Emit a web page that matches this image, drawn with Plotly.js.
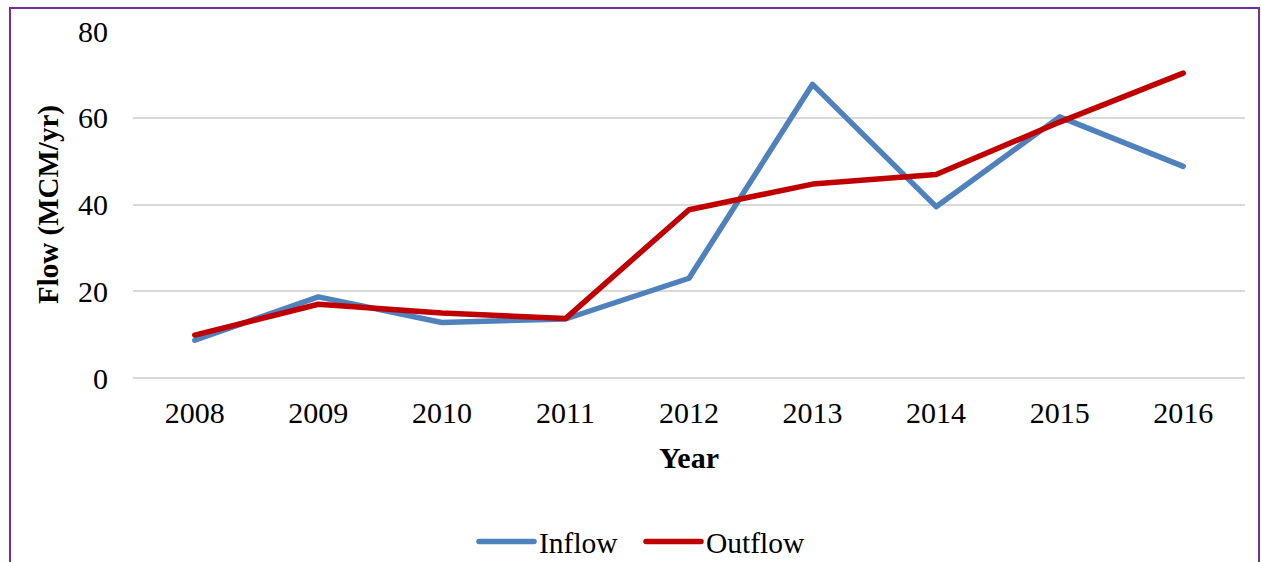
<!DOCTYPE html>
<html>
<head>
<meta charset="utf-8">
<script src="https://cdn.plot.ly/plotly-3.0.1.min.js"></script>
<style>
  html, body { margin: 0; padding: 0; background: #fff; overflow: hidden; }
  #frame {
    position: absolute; left: 9px; top: 7px; width: 1251px; height: 600px;
    border: 2.5px solid #7030A0; box-sizing: border-box;
  }
  #chart { position: absolute; left: 0; top: 0; width: 1261px; height: 562px; }
  #chart .js-line, #chart .layer-above path { stroke-linecap: round !important; stroke-linejoin: round !important; }
</style>
</head>
<body>
<div id="frame"></div>
<div id="chart"></div>
<script>
// Annual flow, million cubic metres per year
const years = ['2008', '2009', '2010', '2011', '2012', '2013', '2014', '2015', '2016'];
const inflow = [8.7, 18.7, 12.8, 13.6, 23.0, 67.7, 39.5, 60.2, 48.8];
const outflow = [9.9, 17.0, 15.0, 13.7, 38.8, 44.7, 46.9, 59.0, 70.3];
const seriesNames = ['Inflow', 'Outflow'];
const seriesColors = ['#4F81BD', '#C00000'];
const yTicks = [0, 20, 40, 60, 80];

const W = 1261, H = 562;
const M = { l: 133, r: 16, t: 31.3, b: 184.3 };
const plotW = W - M.l - M.r, plotH = H - M.t - M.b;
const px2x = p => (p - M.l) / plotW;
const px2y = p => (H - M.b - p) / plotH;

const FONT = 'Liberation Serif, Times New Roman, serif';

const traces = [inflow, outflow].map((vals, i) => ({
  type: 'scatter', mode: 'lines', x: years, y: vals, name: seriesNames[i],
  line: { color: seriesColors[i], width: 5.5 }, showlegend: false,
  hoverinfo: 'x+y+name'
}));

// Legend drawn as swatch lines plus labels under the axis title
const legendY = 541;
const legendItems = [{ x0: 479, x1: 534, tx: 537 }, { x0: 646, x1: 701, tx: 704 }];
const shapes = legendItems.map((it, i) => ({
  type: 'line', xref: 'paper', yref: 'paper',
  x0: px2x(it.x0), x1: px2x(it.x1), y0: px2y(legendY), y1: px2y(legendY),
  line: { color: seriesColors[i], width: 5.5 }
}));
const annotations = legendItems.map((it, i) => ({
  xref: 'paper', yref: 'paper', x: px2x(it.tx), y: px2y(legendY + 1),
  xanchor: 'left', yanchor: 'middle', showarrow: false, text: seriesNames[i],
  font: { family: FONT, size: 29.5, color: '#000' }
}));

const layout = {
  width: W, height: H,
  margin: M,
  paper_bgcolor: 'rgba(0,0,0,0)', plot_bgcolor: 'rgba(0,0,0,0)',
  showlegend: false,
  xaxis: {
    type: 'category', range: [-0.5, years.length - 0.5],
    showgrid: false, zeroline: false, showline: false, ticks: '',
    ticklabelstandoff: 14,
    tickfont: { family: FONT, size: 30, color: '#000' },
    title: { text: '<b>Year</b>', standoff: 18, font: { family: FONT, size: 30, color: '#000' } },
    fixedrange: true
  },
  yaxis: {
    range: [0, 80], tickvals: yTicks, ticktext: yTicks.map(String),
    showgrid: true, gridcolor: '#D9D9D9', gridwidth: 2,
    zeroline: true, zerolinecolor: '#D9D9D9', zerolinewidth: 2,
    showline: false, ticks: '',
    ticklabelstandoff: 24,
    tickfont: { family: FONT, size: 30, color: '#000' },
    title: { text: '<b>Flow (MCM/yr)</b>', standoff: 10, font: { family: FONT, size: 29, color: '#000' } },
    fixedrange: true
  },
  shapes: shapes,
  annotations: annotations
};

Plotly.newPlot('chart', traces, layout, { displayModeBar: false, staticPlot: true });
</script>
</body>
</html>
